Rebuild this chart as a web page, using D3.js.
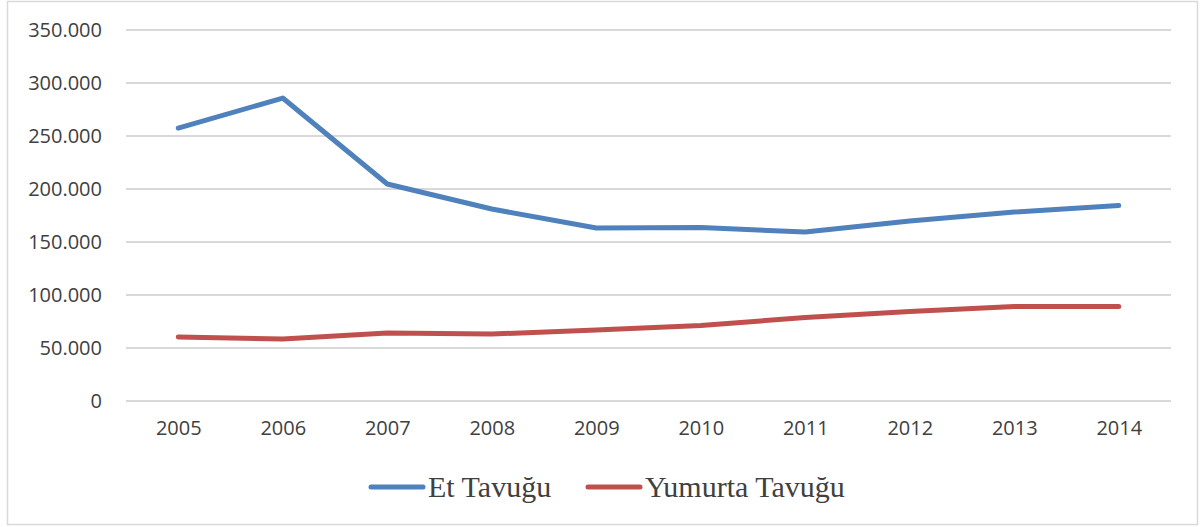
<!DOCTYPE html>
<meta charset="utf-8">
<style>
body { margin: 0; background: #fff; }
.axis text { font: 20px "Open Sans", sans-serif; fill: #404040; }
.grid line { stroke: #D9D9D9; stroke-width: 1.5px; shape-rendering: crispEdges; }
.line { fill: none; stroke-width: 5px; stroke-linecap: round; stroke-linejoin: round; }
.legend text { font: 30px "Liberation Serif", serif; fill: #404040; }
</style>
<body>
<svg width="1204" height="527"></svg>
<script src="https://d3js.org/d3.v7.min.js"></script>
<script>
var years = ["2005","2006","2007","2008","2009","2010","2011","2012","2013","2014"];
var etTavugu = [257500, 285800, 204700, 181100, 163200, 163600, 159400, 169800, 178300, 184400];
var yumurtaTavugu = [60400, 58500, 64200, 63200, 67000, 71200, 78800, 84400, 89200, 89200];
var yTicks = [0, 50000, 100000, 150000, 200000, 250000, 300000, 350000];
var seriesNames = ["Et Tavuğu", "Yumurta Tavuğu"];
var colors = ["#4F81BD", "#C0504D"];

var svg = d3.select("svg");

svg.append("rect")
    .attr("x", 7.5).attr("y", 1.5)
    .attr("width", 1190).attr("height", 523)
    .attr("fill", "#fff")
    .attr("stroke", "#D9D9D9")
    .attr("stroke-width", 1.5);

var plotLeft = 126, plotRight = 1171, plotTop = 30, plotBottom = 401;

var x = d3.scalePoint().domain(years).range([plotLeft, plotRight]).padding(0.5);
var y = d3.scaleLinear().domain([0, 350000]).range([plotBottom, plotTop]);

var fmt = function(d) { return d === 0 ? "0" : d3.format(",")(d).replace(/,/g, "."); };

svg.append("g")
    .attr("class", "grid")
    .selectAll("line")
    .data(yTicks)
  .enter().append("line")
    .attr("x1", plotLeft).attr("x2", plotRight)
    .attr("y1", function(d) { return y(d); })
    .attr("y2", function(d) { return y(d); });

svg.append("g")
    .attr("class", "axis")
    .attr("transform", "translate(" + plotLeft + ",0)")
    .call(d3.axisLeft(y).tickValues(yTicks).tickFormat(fmt).tickSize(0).tickPadding(24))
    .call(function(g) { g.select(".domain").remove(); });

svg.append("g")
    .attr("class", "axis")
    .attr("transform", "translate(0," + plotBottom + ")")
    .call(d3.axisBottom(x).tickSize(0).tickPadding(20))
    .call(function(g) { g.select(".domain").remove(); });

var line = d3.line()
    .x(function(d, i) { return x(years[i]); })
    .y(function(d) { return y(d); });

[etTavugu, yumurtaTavugu].forEach(function(s, i) {
  svg.append("path")
      .datum(s)
      .attr("class", "line")
      .attr("stroke", colors[i])
      .attr("d", line);
});

var legend = svg.append("g").attr("class", "legend");
var legX = [369, 586];
seriesNames.forEach(function(n, i) {
  legend.append("line")
      .attr("x1", legX[i] + 2).attr("x2", legX[i] + 54)
      .attr("y1", 487).attr("y2", 487)
      .attr("stroke", colors[i])
      .attr("stroke-width", 5)
      .attr("stroke-linecap", "round");
  legend.append("text")
      .attr("x", legX[i] + 59)
      .attr("y", 497)
      .text(n);
});
</script>
</body>
